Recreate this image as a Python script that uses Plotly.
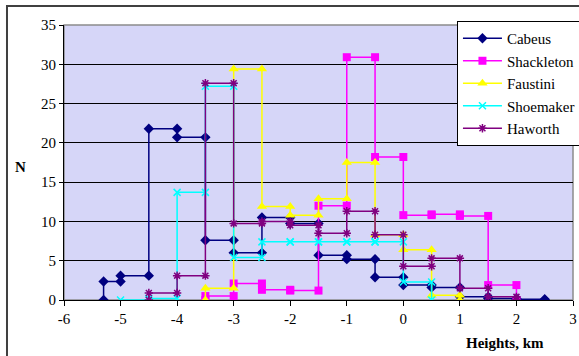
import plotly.graph_objects as go

# ---- data (step histograms: x = bin edges, y = counts) ----
cabeus_x = [-5.3, -5.3, -5, -5, -4.5, -4.5, -4, -4, -3.5, -3.5, -3, -3, -2.5, -2.5, -2, -2,
            -1.5, -1.5, -1, -1, -0.5, -0.5, 0, 0, 0.5, 0.5, 1, 1, 1.5, 1.5, 2, 2, 2.5, 2.5]
cabeus_y = [0, 2.35, 2.35, 3.1, 3.1, 21.8, 21.8, 20.7, 20.7, 7.6, 7.6, 6.0, 6.0, 10.5, 10.5, 9.75,
            9.75, 5.7, 5.7, 5.2, 5.2, 2.9, 2.9, 1.9, 1.9, 1.6, 1.6, 0.4, 0.4, 0.2, 0.2, 0.1, 0.1, 0]

shackleton_x = [-3.5, -3.5, -3, -3, -2.5, -2.5, -2, -2, -1.5, -1.5, -1, -1, -0.5, -0.5, 0, 0,
                0.5, 0.5, 1, 1, 1.5, 1.5, 2, 2]
shackleton_y = [0, 0.5, 0.5, 2.1, 2.1, 1.3, 1.3, 1.2, 1.2, 12.0, 12.0, 30.9, 30.9, 18.2, 18.2, 10.8,
                10.8, 10.9, 10.9, 10.7, 10.7, 1.9, 1.9, 0]

faustini_x = [-3.5, -3.5, -3, -3, -2.5, -2.5, -2, -2, -1.5, -1.5, -1, -1, -0.5, -0.5, 0, 0,
              0.5, 0.5, 1, 1]
faustini_y = [0, 1.5, 1.5, 29.4, 29.4, 11.9, 11.9, 10.8, 10.8, 12.9, 12.9, 17.5, 17.5, 8.3, 8.3, 6.4,
              6.4, 0.6, 0.6, 0]

shoemaker_x = [-5, -4.5, -4.5, -4, -4, -3.5, -3.5, -3, -3, -2.5, -2.5, -2, -2, -1.5, -1.5, -1, -1,
               -0.5, -0.5, 0, 0, 0.5, 0.5]
shoemaker_y = [0, 0, 0.2, 0.2, 13.7, 13.7, 27.2, 27.2, 5.4, 5.4, 7.4, 7.4, 7.4, 7.4, 7.4, 7.4, 7.4,
               7.4, 7.4, 7.4, 2.3, 2.3, 0]

haworth_x = [-4.5, -4.5, -4, -4, -3.5, -3.5, -3, -3, -2.5, -2.5, -2, -2, -1.5, -1.5, -1, -1,
             -0.5, -0.5, 0, 0, 0.5, 0.5, 1, 1, 1.5, 1.5, 2, 2]
haworth_y = [0, 0.9, 0.9, 3.1, 3.1, 27.6, 27.6, 9.75, 9.75, 10.0, 10.0, 9.5, 9.5, 8.5, 8.5, 11.3,
             11.3, 8.3, 8.3, 4.3, 4.3, 5.3, 5.3, 1.5, 1.5, 0.4, 0.4, 0]

series_names = ["Cabeus", "Shackleton", "Faustini", "Shoemaker", "Haworth"]
x_ticks = [-6, -5, -4, -3, -2, -1, 0, 1, 2, 3]
y_ticks = [0, 5, 10, 15, 20, 25, 30, 35]

FONT = '"Liberation Serif", "Times New Roman", "DejaVu Serif", serif'

styles = [
    dict(color="#000080", symbol="diamond", size=8, lw=0),
    dict(color="#FF00FF", symbol="square", size=8, lw=0),
    dict(color="#FFFF00", symbol="triangle-up", size=9, lw=0),
    dict(color="#00FFFF", symbol="x-thin-open", size=7, lw=1.5),
    dict(color="#800080", symbol="asterisk-open", size=7, lw=1.5),
]
data = [(cabeus_x, cabeus_y), (shackleton_x, shackleton_y), (faustini_x, faustini_y),
        (shoemaker_x, shoemaker_y), (haworth_x, haworth_y)]

fig = go.Figure()
for name, (xs, ys), st in zip(series_names, data, styles):
    fig.add_trace(go.Scatter(
        x=xs, y=ys, mode="lines+markers", name=name, legendgroup=name,
        line=dict(color=st["color"], width=1.5),
        marker=dict(symbol=st["symbol"], size=st["size"], color=st["color"],
                    line=dict(color=st["color"], width=st["lw"])),
    ))

fig.update_layout(
    width=579, height=356,
    margin=dict(l=64, r=6, t=25, b=56, autoexpand=False),
    paper_bgcolor="white",
    plot_bgcolor="#D6D6F8",
    font=dict(family=FONT, size=15, color="black"),
    showlegend=True,
    legend=dict(
        x=0.772, y=1.0145, xanchor="left", yanchor="top",
        bgcolor="white", bordercolor="black", borderwidth=1,
        font=dict(family=FONT, size=15, color="black"),
        itemwidth=39, tracegroupgap=7, traceorder="normal",
    ),
    xaxis=dict(
        range=[-6, 3], tickvals=x_ticks, ticktext=[str(v) for v in x_ticks],
        showgrid=False, zeroline=False,
        showline=True, linecolor="black", linewidth=1.2,
        ticks="outside", ticklen=5, tickcolor="black",
        tickfont=dict(family=FONT, size=15),
    ),
    yaxis=dict(
        range=[0, 35], tickvals=y_ticks, ticktext=[str(v) for v in y_ticks],
        showgrid=True, gridcolor="black", gridwidth=1.2,
        zeroline=False,
        showline=True, linecolor="black", linewidth=1.2,
        ticks="outside", ticklen=4, tickcolor="black",
        tickfont=dict(family=FONT, size=15),
    ),
    shapes=[
        dict(type="rect", xref="paper", yref="paper", x0=0, x1=1, y0=0, y1=1,
             line=dict(color="#8C8C8C", width=1.5), layer="below"),
        dict(type="rect", xref="paper", yref="paper", x0=-0.112, x1=1.05, y0=-0.4, y1=1.069,
             line=dict(color="#404040", width=2)),
    ],
    annotations=[
        dict(text="<b>N</b>", xref="paper", yref="paper", x=-0.086, y=0.484,
             xanchor="center", yanchor="middle", showarrow=False,
             font=dict(family=FONT, size=15)),
        dict(text="<b>Heights, km</b>", xref="paper", yref="paper", x=0.866, y=-0.156,
             xanchor="center", yanchor="middle", showarrow=False,
             font=dict(family=FONT, size=15)),
    ],
)

fig.write_html("out.html",
               config={"displayModeBar": False},
               post_script="document.body.style.margin='0';document.body.style.overflow='hidden';")
